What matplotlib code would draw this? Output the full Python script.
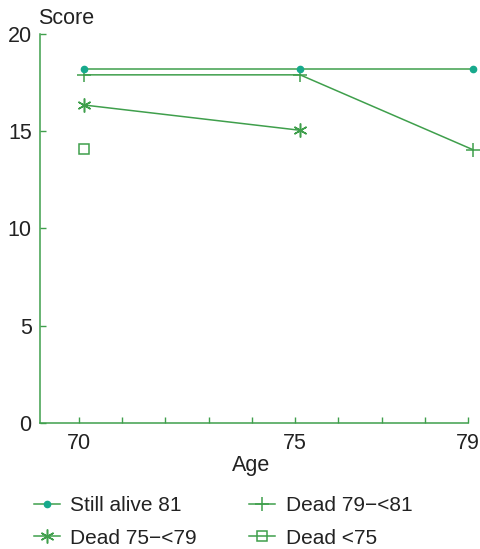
import matplotlib
matplotlib.use("Agg")
import matplotlib.pyplot as plt
from matplotlib.transforms import offset_copy

plt.rcParams["font.family"] = ["Liberation Sans", "DejaVu Sans"]

# Mean score by age for each survival group
ages_alive = [70, 75, 79]
score_alive = [18.2, 18.2, 18.2]

ages_d79 = [70, 75, 79]
score_d79 = [17.9, 17.9, 14.05]

ages_d75 = [70, 75]
score_d75 = [16.35, 15.05]

ages_d70 = [70]
score_d70 = [14.1]

x_ticks = list(range(70, 80))
x_labels = ["70", "", "", "", "", "75", "", "", "", "79"]
y_ticks = [0, 5, 10, 15, 20]

GREEN = "#3f9f4c"
TEAL = "#17a98c"
TEXT = "#222222"
FS = 15.5
LFS = 15

fig = plt.figure(figsize=(4.8, 5.49), dpi=100)
ax = fig.add_axes([40 / 480, 1 - 423 / 549, (468 - 40) / 480, (423 - 34) / 549])
ax.set_xlim(69.1, 79)
ax.set_ylim(0, 20)

# points sit a few pixels right of the tick marks
tr = offset_copy(ax.transData, fig=fig, x=5, y=0, units="dots")

lw = 1.1
l1, = ax.plot(ages_alive, score_alive, color=GREEN, lw=lw, marker="o", ms=4.5,
              mfc=TEAL, mec=TEAL, transform=tr, clip_on=False, zorder=4)
l2, = ax.plot(ages_d79, score_d79, color=GREEN, lw=lw, marker="+", ms=10,
              mew=1.1, transform=tr, clip_on=False, zorder=3)
l3, = ax.plot(ages_d75, score_d75, color=GREEN, lw=lw, marker=(6, 2, 0), ms=10,
              mew=1.1, transform=tr, clip_on=False, zorder=3)
l4, = ax.plot(ages_d70, score_d70, color=GREEN, lw=lw, marker="s", ms=7,
              mfc="none", mec=GREEN, mew=1.1, transform=tr, clip_on=False, zorder=3)

for s in ["top", "right"]:
    ax.spines[s].set_visible(False)
for s in ["left", "bottom"]:
    ax.spines[s].set_color(GREEN)
    ax.spines[s].set_linewidth(1.1)

ax.set_xticks(x_ticks)
ax.set_xticklabels(x_labels)
ax.set_yticks(y_ticks)
ax.tick_params(axis="both", direction="in", length=4, width=1.0, color=GREEN,
               labelsize=FS, labelcolor=TEXT)
ax.tick_params(axis="x", pad=7)
ax.tick_params(axis="y", pad=6)

fig.text(38 / 480, 1 - 19 / 549, "Score", fontsize=FS, color=TEXT,
         ha="left", va="center")
fig.text(251 / 480, 1 - 466 / 549, "Age", fontsize=FS, color=TEXT,
         ha="center", va="center")

leg = fig.legend([l1, l3, l2, l4],
                 ["Still alive 81", "Dead 75\u2212<79", "Dead 79\u2212<81", "Dead <75"],
                 ncols=2, loc="upper left", bbox_to_anchor=(34 / 480, 1 - 496 / 549),
                 frameon=False, fontsize=LFS, handlelength=1.25, handletextpad=0.5,
                 columnspacing=2.5, labelspacing=0.65, borderpad=0, borderaxespad=0)
for t in leg.get_texts():
    t.set_color(TEXT)

fig.savefig("out.png", dpi=100)
